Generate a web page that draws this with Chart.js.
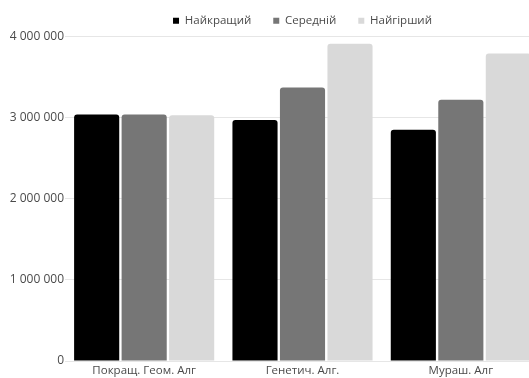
<!DOCTYPE html>
<html>
<head>
<meta charset="utf-8">
<script src="https://cdn.jsdelivr.net/npm/chart.js@4/dist/chart.umd.min.js"></script>
<style>
  html, body { margin: 0; padding: 0; background: #ffffff; overflow: hidden; }
  #wrap { width: 540px; height: 378px; }
</style>
</head>
<body>
<div id="wrap"><canvas id="c" width="540" height="378"></canvas></div>
<script>
// Algorithm names on the x axis
const categories = ['Покращ. Геом. Алг', 'Генетич. Алг.', 'Мураш. Алг'];
// Series names
const seriesNames = ['Найкращий', 'Середній', 'Найгірший'];
// Route lengths per algorithm
const bestValues = [3040000, 2970000, 2850000];
const meanValues = [3040000, 3370000, 3220000];
const worstValues = [3030000, 3910000, 3790000];
// Y axis ticks
const yTicks = [0, 1000000, 2000000, 3000000, 4000000];

const colors = ['#000000', '#767676', '#d9d9d9'];
const fontFamily = '"Open Sans", "Noto Sans", sans-serif';

function spaced(v) {
  return String(v).replace(/\B(?=(\d{3})+(?!\d))/g, ' ');
}

const seriesValues = [bestValues, meanValues, worstValues];

new Chart(document.getElementById('c'), {
  type: 'bar',
  data: {
    labels: categories,
    datasets: seriesNames.map((name, i) => ({
      label: name,
      data: seriesValues[i],
      backgroundColor: colors[i],
      borderRadius: 3,
      borderSkipped: 'bottom',
      categoryPercentage: 0.9,
      barPercentage: 0.95
    }))
  },
  options: {
    responsive: false,
    animation: false,
    devicePixelRatio: 1,
    layout: { padding: { top: -7, right: 0, left: 4, bottom: 0 } },
    plugins: {
      tooltip: { enabled: false },
      legend: {
        position: 'top',
        fullSize: false,
        labels: {
          usePointStyle: true,
          pointStyle: 'rect',
          boxWidth: 6,
          boxHeight: 6,
          padding: 22,
          color: '#4a4a4a',
          font: { family: fontFamily, size: 11.5 }
        }
      }
    },
    scales: {
      x: {
        afterFit: (axis) => { axis.height = 17; },
        grid: { display: false, drawTicks: false },
        border: { display: false },
        ticks: {
          color: '#4a4a4a',
          padding: 3,
          font: { family: fontFamily, size: 11.5 }
        }
      },
      y: {
        min: yTicks[0],
        max: yTicks[yTicks.length - 1],
        afterBuildTicks: (axis) => { axis.ticks = yTicks.map(v => ({ value: v })); },
        afterFit: (axis) => { axis.width = 61; },
        grid: { color: '#e6e6e6', drawTicks: false },
        border: { display: false },
        ticks: {
          color: '#4a4a4a',
          padding: 1,
          font: { family: fontFamily, size: 12 },
          callback: (v) => spaced(v)
        }
      }
    }
  }
});
</script>
</body>
</html>
